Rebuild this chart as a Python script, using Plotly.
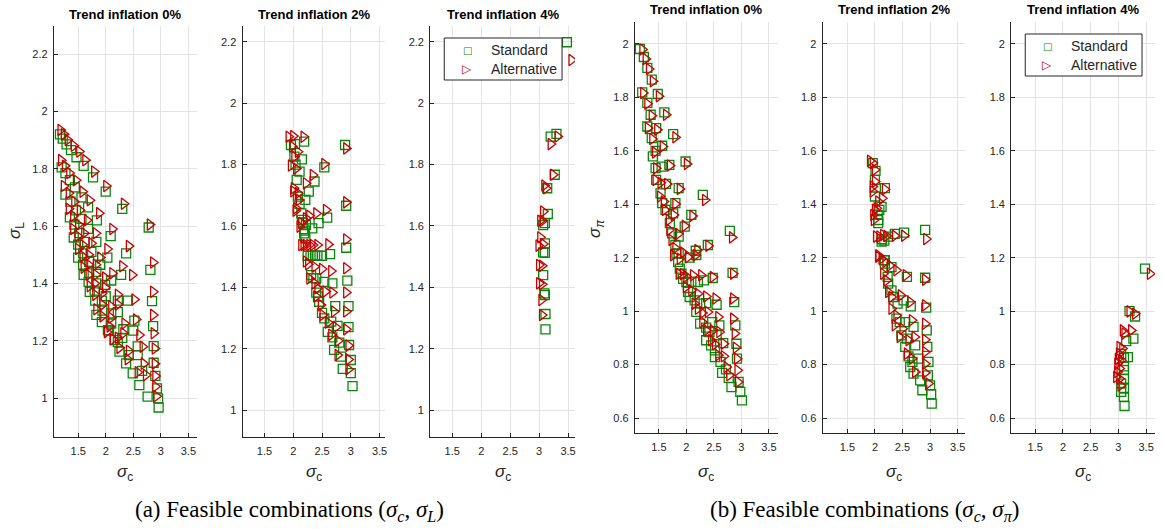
import plotly.graph_objects as go

W, H = 1164, 529

# ---------------- data ----------------
titles = ["Trend inflation 0%", "Trend inflation 2%", "Trend inflation 4%"]
series_names = ["Standard", "Alternative"]
x_tick_vals = [1.5, 2, 2.5, 3, 3.5]
x_tick_text = ["1.5", "2", "2.5", "3", "3.5"]
yL_tick_vals = [1, 1.2, 1.4, 1.6, 1.8, 2, 2.2]
yL_tick_text = ["1", "1.2", "1.4", "1.6", "1.8", "2", "2.2"]
yP_tick_vals = [0.6, 0.8, 1, 1.2, 1.4, 1.6, 1.8, 2]
yP_tick_text = ["0.6", "0.8", "1", "1.2", "1.4", "1.6", "1.8", "2"]

# (a) sigma_c vs sigma_L, trend inflation 0%
a0_std_x = [1.17, 1.22, 1.29, 1.37, 1.47, 1.60, 1.77, 2.00, 2.30, 2.78,
            1.20, 1.27, 1.35, 1.44, 1.56, 1.68, 1.84, 2.09, 2.37, 2.81,
            1.27, 1.36, 1.46, 1.56, 1.68, 1.83, 2.03, 2.28, 2.84,
            1.35, 1.43, 1.52, 1.62, 1.74, 1.90, 2.10, 2.40, 2.86,
            1.42, 1.50, 1.59, 1.70, 1.83, 1.99, 2.22, 2.52, 2.87,
            1.50, 1.59, 1.70, 1.83, 2.00, 2.22, 2.50, 2.87,
            1.60, 1.69, 1.80, 1.93, 2.10, 2.32, 2.58, 2.90,
            1.71, 1.81, 1.94, 2.10, 2.30, 2.58, 2.93,
            1.83, 1.93, 2.06, 2.22, 2.42, 2.66, 2.95,
            2.04, 2.16, 2.25, 2.37, 2.49, 2.61, 2.76, 2.96]
a0_std_y = [1.92, 1.905, 1.885, 1.865, 1.84, 1.81, 1.77, 1.72, 1.66, 1.595,
            1.805, 1.785, 1.76, 1.735, 1.70, 1.665, 1.62, 1.565, 1.505, 1.447,
            1.71, 1.685, 1.655, 1.625, 1.59, 1.545, 1.49, 1.43, 1.338,
            1.63, 1.605, 1.575, 1.545, 1.51, 1.465, 1.41, 1.34, 1.251,
            1.56, 1.535, 1.505, 1.475, 1.44, 1.395, 1.34, 1.27, 1.181,
            1.49, 1.465, 1.435, 1.40, 1.355, 1.30, 1.235, 1.123,
            1.43, 1.405, 1.375, 1.34, 1.295, 1.24, 1.18, 1.077,
            1.37, 1.34, 1.305, 1.26, 1.21, 1.15, 1.034,
            1.29, 1.265, 1.235, 1.195, 1.15, 1.095, 0.999,
            1.237, 1.202, 1.162, 1.121, 1.086, 1.045, 1.005, 0.967]
a0_alt_x = [1.18, 1.24, 1.31, 1.42, 1.52, 1.63, 1.79, 2.01, 2.33, 2.80,
            1.19, 1.26, 1.34, 1.46, 1.58, 1.71, 1.88, 2.12, 2.42, 2.86,
            1.24, 1.33, 1.43, 1.53, 1.66, 1.82, 2.03, 2.30, 2.48, 2.86,
            1.33, 1.41, 1.50, 1.61, 1.74, 1.90, 2.12, 2.52, 2.86,
            1.41, 1.49, 1.58, 1.69, 1.82, 1.99, 2.22, 2.55, 2.87,
            1.50, 1.58, 1.69, 1.82, 1.99, 2.22, 2.61, 2.89,
            1.60, 1.69, 1.80, 1.93, 2.10, 2.34, 2.67, 2.89,
            1.71, 1.81, 1.94, 2.10, 2.32, 2.69, 2.90,
            1.83, 1.94, 2.07, 2.22, 2.42, 2.73, 2.90,
            2.02, 2.13, 2.25, 2.40, 2.58, 2.92]
a0_alt_y = [1.935, 1.92, 1.90, 1.88, 1.86, 1.83, 1.79, 1.74, 1.678, 1.605,
            1.83, 1.81, 1.785, 1.76, 1.72, 1.69, 1.645, 1.59, 1.53, 1.473,
            1.74, 1.715, 1.685, 1.655, 1.62, 1.575, 1.52, 1.46, 1.429, 1.371,
            1.66, 1.635, 1.605, 1.575, 1.54, 1.49, 1.435, 1.344, 1.29,
            1.59, 1.565, 1.535, 1.50, 1.465, 1.42, 1.36, 1.274, 1.226,
            1.52, 1.495, 1.465, 1.43, 1.385, 1.326, 1.22, 1.173,
            1.455, 1.43, 1.40, 1.365, 1.32, 1.26, 1.179, 1.12,
            1.39, 1.36, 1.325, 1.28, 1.226, 1.12, 1.077,
            1.31, 1.285, 1.25, 1.21, 1.165, 1.08, 1.04,
            1.23, 1.205, 1.175, 1.135, 1.09, 1.006]

# (a) trend inflation 2%
a2_std_x = [1.96, 2.03, 2.19, 2.90, 2.54, 2.15, 2.02, 2.04, 2.11, 2.37, 2.27, 2.06,
            2.08, 2.21, 2.11, 2.14, 2.15, 2.17, 2.22, 2.33, 2.44, 2.59, 2.92, 2.19,
            2.20, 2.21, 2.92, 2.25, 2.30, 2.34, 2.38, 2.42, 2.50, 2.64, 2.31, 2.40,
            2.54, 2.68, 2.94, 2.40, 2.45, 2.73, 2.96, 2.50, 2.54, 2.66, 2.77, 2.96,
            2.60, 2.68, 2.80, 2.97, 2.71, 2.83, 3.00, 2.86, 3.00, 3.03, 2.35, 2.43]
a2_std_y = [1.864, 1.867, 1.875, 1.864, 1.791, 1.817, 1.826, 1.80, 1.777, 1.745, 1.712, 1.75,
            1.696, 1.685, 1.672, 1.641, 1.62, 1.61, 1.603, 1.592, 1.609, 1.627, 1.666, 1.576,
            1.585, 1.56, 1.529, 1.503, 1.503, 1.503, 1.503, 1.503, 1.503, 1.508, 1.44, 1.429,
            1.418, 1.413, 1.422, 1.383, 1.353, 1.339, 1.339, 1.317, 1.299, 1.288, 1.274, 1.27,
            1.255, 1.237, 1.22, 1.212, 1.196, 1.174, 1.163, 1.134, 1.12, 1.078, 1.43, 1.37]
a2_alt_x = [1.92, 2.00, 2.18, 1.98, 2.08, 2.02, 1.96, 2.05, 2.54, 2.34, 2.22, 2.01,
            2.00, 2.08, 2.10, 2.05, 2.04, 2.28, 2.40, 2.57, 2.11, 2.14, 2.22, 2.92,
            2.92, 2.92, 2.14, 2.18, 2.22, 2.28, 2.34, 2.42, 2.61, 2.22, 2.26, 2.37,
            2.50, 2.66, 2.92, 2.28, 2.37, 2.42, 2.56, 2.68, 2.92, 2.40, 2.48, 2.71,
            2.92, 2.51, 2.60, 2.74, 2.92, 2.66, 2.78, 2.96, 2.77, 2.96, 2.96]
a2_alt_y = [1.891, 1.893, 1.891, 1.86, 1.842, 1.826, 1.797, 1.787, 1.802, 1.766, 1.739, 1.723,
            1.713, 1.707, 1.685, 1.658, 1.65, 1.633, 1.641, 1.652, 1.598, 1.61, 1.625, 1.677,
            1.853, 1.556, 1.538, 1.538, 1.538, 1.538, 1.538, 1.538, 1.54, 1.484, 1.475, 1.467,
            1.46, 1.453, 1.462, 1.429, 1.413, 1.397, 1.386, 1.383, 1.383, 1.37, 1.342, 1.321,
            1.321, 1.31, 1.285, 1.27, 1.263, 1.245, 1.226, 1.21, 1.179, 1.165, 1.133]

# (a) trend inflation 4%
a4_std_x = [3.48, 3.30, 3.20, 3.27, 3.14, 3.15, 3.10, 3.07, 3.10, 3.07, 3.10,
            3.07, 3.10, 3.11, 3.11, 3.09]
a4_std_y = [2.199, 1.90, 1.891, 1.767, 1.723, 1.639, 1.609, 1.603, 1.543, 1.514, 1.512,
            1.44, 1.375, 1.313, 1.263, 1.38]
a4_alt_x = [3.56, 3.32, 3.20, 3.24, 3.12, 3.09, 3.07, 3.06, 3.02, 3.07, 3.02, 2.99,
            3.00, 3.05, 3.00, 3.05, 3.04, 3.05]
a4_alt_y = [2.141, 1.892, 1.867, 1.767, 1.723, 1.732, 1.647, 1.617, 1.617, 1.541, 1.563, 1.536,
            1.473, 1.47, 1.413, 1.41, 1.359, 1.31]

# (b) sigma_c vs sigma_pi, trend inflation 0%
b0_std_x = [1.155, 1.227, 1.29, 1.37, 1.197, 1.48, 1.29, 1.35, 1.60, 1.29, 1.45, 1.76,
            1.37, 1.56, 1.39, 1.44, 1.985, 1.44, 1.55, 1.69, 1.45, 1.63, 1.86, 2.30,
            1.53, 1.56, 1.80, 1.62, 1.76, 2.09, 1.70, 1.97, 2.79, 1.74, 1.86, 1.80,
            2.17, 2.39, 1.86,
            1.82, 1.85, 1.88, 1.91, 1.94, 2.00, 2.09, 2.21, 2.32, 2.48, 2.84, 2.06,
            2.18, 2.03, 2.06, 2.15, 2.25, 2.36, 2.55, 2.87, 2.18, 2.25, 2.36, 2.47,
            2.60, 2.89, 2.36, 2.45, 2.52, 2.67, 2.91, 2.52, 2.62, 2.65, 2.77, 2.82,
            2.92, 2.95, 2.98, 3.01, 2.42, 2.55, 2.72]
b0_std_y = [1.981, 1.951, 1.91, 1.866, 1.819, 1.8125, 1.779, 1.735, 1.744, 1.691, 1.685, 1.6625,
            1.6475, 1.619, 1.579, 1.60, 1.56, 1.535, 1.541, 1.5475, 1.491, 1.476, 1.46, 1.435,
            1.441, 1.404, 1.404, 1.379, 1.366, 1.36, 1.329, 1.316, 1.30, 1.291, 1.279, 1.2475,
            1.226, 1.2475, 1.216,
            1.215, 1.184, 1.159, 1.14, 1.121, 1.109, 1.109, 1.109, 1.115, 1.124, 1.143, 1.20,
            1.21, 1.072, 1.053, 1.04, 1.028, 1.03, 1.024, 1.034, 0.997, 0.953, 0.938, 0.959,
            0.947, 0.947, 0.891, 0.872, 0.853, 0.88, 0.878, 0.828, 0.81, 0.769, 0.75, 0.716,
            0.822, 0.735, 0.698, 0.666, 0.922, 0.91, 0.782]
b0_alt_x = [1.20, 1.26, 1.32, 1.39, 1.215, 1.50, 1.29, 1.63, 1.37, 1.30, 1.47, 1.80,
            1.38, 1.57, 1.43, 2.01, 1.45, 1.70, 1.44, 1.53, 1.65, 1.88, 2.34, 1.52,
            1.59, 1.80, 1.61, 1.77, 2.11, 1.68, 1.97, 2.83, 1.69, 1.85, 1.73, 2.40,
            2.20, 1.80, 1.94,
            1.76, 1.88, 2.03, 2.17, 1.86, 1.94, 2.00, 2.12, 2.27, 2.48, 2.85, 1.99,
            2.09, 2.21, 2.36, 2.53, 2.85, 2.15, 2.21, 2.29, 2.39, 2.58, 2.85, 2.29,
            2.36, 2.48, 2.60, 2.88, 2.45, 2.52, 2.68, 2.90, 2.58, 2.68, 2.92, 2.73,
            2.93, 2.78, 2.94]
b0_alt_y = [1.979, 1.944, 1.906, 1.86, 1.816, 1.804, 1.776, 1.735, 1.731, 1.685, 1.679, 1.651,
            1.644, 1.616, 1.594, 1.551, 1.535, 1.545, 1.491, 1.48, 1.476, 1.4575, 1.416, 1.429,
            1.41, 1.401, 1.379, 1.36, 1.356, 1.341, 1.319, 1.276, 1.304, 1.289, 1.266, 1.245,
            1.229, 1.235, 1.219,
            1.209, 1.196, 1.202, 1.209, 1.14, 1.138, 1.13, 1.134, 1.134, 1.128, 1.14, 1.09,
            1.078, 1.065, 1.055, 1.047, 1.047, 1.028, 1.009, 0.993, 0.997, 0.978, 0.972, 0.959,
            0.928, 0.928, 0.922, 0.916, 0.891, 0.876, 0.878, 0.863, 0.835, 0.831, 0.822, 0.791,
            0.779, 0.76, 0.735]

# (b) trend inflation 2%
b2_std_x = [1.96, 2.01, 2.00, 2.18, 2.00, 2.12, 2.08, 2.05, 2.06, 2.06, 2.12, 2.17,
            2.24, 2.36, 2.53, 2.91, 2.18, 2.13,
            2.17, 2.18, 2.30, 2.23, 2.58, 2.91, 2.24, 2.30, 2.33, 2.41, 2.52, 2.65,
            2.93, 2.39, 2.45, 2.55, 2.70, 2.94, 2.48, 2.58, 2.73, 2.95, 2.61, 2.68,
            2.79, 2.97, 2.70, 2.82, 2.86, 2.96, 3.00, 3.02, 3.03, 2.55, 2.64]
b2_std_y = [1.554, 1.525, 1.491, 1.46, 1.429, 1.39, 1.379, 1.36, 1.341, 1.329, 1.26, 1.264,
            1.279, 1.289, 1.294, 1.304, 1.191, 1.269,
            1.19, 1.178, 1.165, 1.128, 1.128, 1.125, 1.103, 1.078, 1.053, 1.028, 1.04, 1.018,
            1.013, 0.972, 0.959, 0.959, 0.941, 0.928, 0.909, 0.897, 0.872, 0.866, 0.831, 0.81,
            0.822, 0.81, 0.766, 0.741, 0.704, 0.76, 0.722, 0.689, 0.654, 0.866, 0.791]
b2_alt_x = [1.91, 1.96, 2.00, 2.00, 1.96, 1.96, 2.13, 2.18, 2.06, 2.00, 1.97, 1.98,
            2.03, 2.02, 2.08, 2.15, 2.21, 2.36, 2.53, 2.93, 2.06,
            2.06, 2.12, 2.19, 2.27, 2.39, 2.56, 2.91, 2.15, 2.21, 2.24, 2.30, 2.47,
            2.64, 2.91, 2.30, 2.39, 2.36, 2.50, 2.67, 2.91, 2.45, 2.61, 2.72, 2.91,
            2.58, 2.67, 2.91, 2.73, 2.91, 2.91, 2.97]
b2_alt_y = [1.5625, 1.554, 1.529, 1.485, 1.466, 1.4475, 1.4225, 1.456, 1.41, 1.379, 1.36, 1.341,
            1.385, 1.279, 1.279, 1.285, 1.281, 1.2825, 1.2825, 1.27, 1.204,
            1.209, 1.196, 1.184, 1.171, 1.153, 1.134, 1.118, 1.14, 1.115, 1.072, 1.053, 1.059,
            1.034, 1.022, 1.009, 0.984, 0.947, 0.934, 0.966, 0.953, 0.903, 0.891, 0.903, 0.893,
            0.841, 0.822, 0.847, 0.772, 0.803, 0.769, 0.729]

# (b) trend inflation 4%
b4_std_x = [3.48, 3.20, 3.30, 3.27, 3.14, 3.17, 3.10, 3.10, 3.10, 3.10, 3.05, 3.10,
            3.05, 3.10, 3.11, 3.05]
b4_std_y = [1.159, 1.0, 0.98, 0.897, 0.888, 0.828, 0.826, 0.793, 0.779, 0.747, 0.729, 0.71,
            0.698, 0.679, 0.645, 0.84]
b4_alt_x = [3.57, 3.20, 3.30, 3.08, 3.23, 3.11, 3.02, 3.07, 3.01, 2.99, 3.05, 2.98,
            3.02, 2.98, 2.96, 3.02, 3.04]
b4_alt_y = [1.14, 0.999, 0.99, 0.928, 0.928, 0.916, 0.866, 0.86, 0.841, 0.822, 0.816, 0.803,
            0.785, 0.772, 0.754, 0.747, 0.722]

# ---------------- styling / layout ----------------
GREEN = "#0a870a"
RED = "#cc0000"
AX = "#262626"
GRID = "#e3e3e3"
SANS = "Liberation Sans, Arial, Helvetica, sans-serif"
SERIF = "Liberation Serif, Times New Roman, serif"
GLYPH = "DejaVu Sans, sans-serif"

def fx(px):
    return px / W

def fy(py):
    return (H - py) / H

# pixel boxes of the six axes: (left, right, top, bottom)
boxes = [(54, 197, 26, 437), (243, 386, 26, 437), (431, 576, 26, 437),
         (636, 779, 22, 433), (824, 967, 22, 433), (1013, 1157, 22, 433)]
xranges = [[1.06, 3.65], [1.12, 3.60], [1.12, 3.62],
           [1.064, 3.66], [1.05, 3.64], [1.067, 3.66]]
yranges = [[0.864, 2.298], [0.912, 2.252], [0.912, 2.252],
           [0.544, 2.082], [0.544, 2.082], [0.544, 2.082]]
data = [(a0_std_x, a0_std_y, a0_alt_x, a0_alt_y),
        (a2_std_x, a2_std_y, a2_alt_x, a2_alt_y),
        (a4_std_x, a4_std_y, a4_alt_x, a4_alt_y),
        (b0_std_x, b0_std_y, b0_alt_x, b0_alt_y),
        (b2_std_x, b2_std_y, b2_alt_x, b2_alt_y),
        (b4_std_x, b4_std_y, b4_alt_x, b4_alt_y)]

fig = go.Figure()
layout = dict(width=W, height=H, margin=dict(l=0, r=0, t=0, b=0),
              paper_bgcolor="white", plot_bgcolor="white", showlegend=False)
annotations = []
shapes = []

for i in range(6):
    n = "" if i == 0 else str(i + 1)
    l, r, t, b = boxes[i]
    sx, sy, ax_, ay_ = data[i]
    fig.add_trace(go.Scatter(x=sx, y=sy, mode="markers", xaxis="x" + n, yaxis="y" + n,
                             name=series_names[0], hoverinfo="skip",
                             marker=dict(symbol="square-open", size=9, color=GREEN,
                                         line=dict(width=1.3, color=GREEN))))
    fig.add_trace(go.Scatter(x=ax_, y=ay_, mode="markers", xaxis="x" + n, yaxis="y" + n,
                             name=series_names[1], hoverinfo="skip",
                             marker=dict(symbol="triangle-right-open", size=10, color=RED,
                                         line=dict(width=1.3, color=RED))))
    is_b = i >= 3
    layout["xaxis" + n] = dict(domain=[fx(l), fx(r)], range=xranges[i], anchor="y" + n,
                               tickvals=x_tick_vals, ticktext=x_tick_text,
                               showgrid=True, gridcolor=GRID, gridwidth=1,
                               showline=True, linecolor=AX, linewidth=1.2,
                               ticks="inside", ticklen=4, tickcolor=AX, tickwidth=1,
                               tickfont=dict(family=SANS, size=11, color=AX),
                               zeroline=False, fixedrange=True, ticklabelstandoff=4)
    layout["yaxis" + n] = dict(domain=[fy(b), fy(t)], range=yranges[i], anchor="x" + n,
                               tickvals=yP_tick_vals if is_b else yL_tick_vals,
                               ticktext=yP_tick_text if is_b else yL_tick_text,
                               showgrid=True, gridcolor=GRID, gridwidth=1,
                               showline=True, linecolor=AX, linewidth=1.2,
                               ticks="inside", ticklen=4, tickcolor=AX, tickwidth=1,
                               tickfont=dict(family=SANS, size=11, color=AX),
                               zeroline=False, fixedrange=True, ticklabelstandoff=3)
    cx = (l + r) / 2
    annotations.append(dict(text="<b>" + titles[i % 3] + "</b>", x=fx(cx), y=fy(t - 12),
                            xref="paper", yref="paper", showarrow=False,
                            xanchor="center", yanchor="middle",
                            font=dict(family=SANS, size=13, color="black")))
    annotations.append(dict(text="<i>σ</i><sub>c</sub>", x=fx(cx), y=fy(473),
                            xref="paper", yref="paper", showarrow=False,
                            xanchor="center", yanchor="middle",
                            font=dict(family=SANS, size=17, color=AX)))

# hand-drawn legends (box + glyphs + labels), as in the reference
for (bl, br, bt, bb, mx, ty1, ty2) in [(445, 563, 38, 80, 468, 50, 69),
                                       (1027, 1144, 34, 76, 1049, 46, 65)]:
    shapes.append(dict(type="rect", xref="paper", yref="paper",
                       x0=fx(bl), x1=fx(br), y0=fy(bb), y1=fy(bt),
                       line=dict(color=AX, width=1), fillcolor="white", layer="above"))
    annotations.append(dict(text="□", x=fx(mx), y=fy(ty1), xref="paper", yref="paper",
                            showarrow=False, xanchor="center", yanchor="middle",
                            font=dict(family=GLYPH, size=10, color=GREEN)))
    annotations.append(dict(text="▷", x=fx(mx), y=fy(ty2), xref="paper", yref="paper",
                            showarrow=False, xanchor="center", yanchor="middle",
                            font=dict(family=GLYPH, size=12, color=RED)))
    annotations.append(dict(text=series_names[0], x=fx(mx + 22), y=fy(ty1), xref="paper",
                            yref="paper", showarrow=False, xanchor="left", yanchor="middle",
                            font=dict(family=SANS, size=14, color=AX)))
    annotations.append(dict(text=series_names[1], x=fx(mx + 22), y=fy(ty2), xref="paper",
                            yref="paper", showarrow=False, xanchor="left", yanchor="middle",
                            font=dict(family=SANS, size=14, color=AX)))

# y-axis labels
annotations.append(dict(text="<i>σ</i><sub>L</sub>", x=fx(16), y=fy(230), textangle=-90,
                        xref="paper", yref="paper", showarrow=False,
                        xanchor="center", yanchor="middle",
                        font=dict(family=SANS, size=17, color=AX)))
annotations.append(dict(text="<i>σ</i><sub><i>π</i></sub>", x=fx(597), y=fy(228), textangle=-90,
                        xref="paper", yref="paper", showarrow=False,
                        xanchor="center", yanchor="middle",
                        font=dict(family=SANS, size=17, color=AX)))

# captions
annotations.append(dict(text="(a) Feasible combinations (<i>σ<sub>c</sub></i>, <i>σ<sub>L</sub></i>)",
                        x=fx(290), y=fy(511), xref="paper", yref="paper", showarrow=False,
                        xanchor="center", yanchor="middle",
                        font=dict(family=SERIF, size=23, color="black")))
annotations.append(dict(text="(b) Feasible combinations (<i>σ<sub>c</sub></i>, <i>σ<sub>π</sub></i>)",
                        x=fx(866), y=fy(511), xref="paper", yref="paper", showarrow=False,
                        xanchor="center", yanchor="middle",
                        font=dict(family=SERIF, size=23, color="black")))

layout["annotations"] = annotations
layout["shapes"] = shapes
fig.update_layout(**layout)
fig.write_html("out.html")
